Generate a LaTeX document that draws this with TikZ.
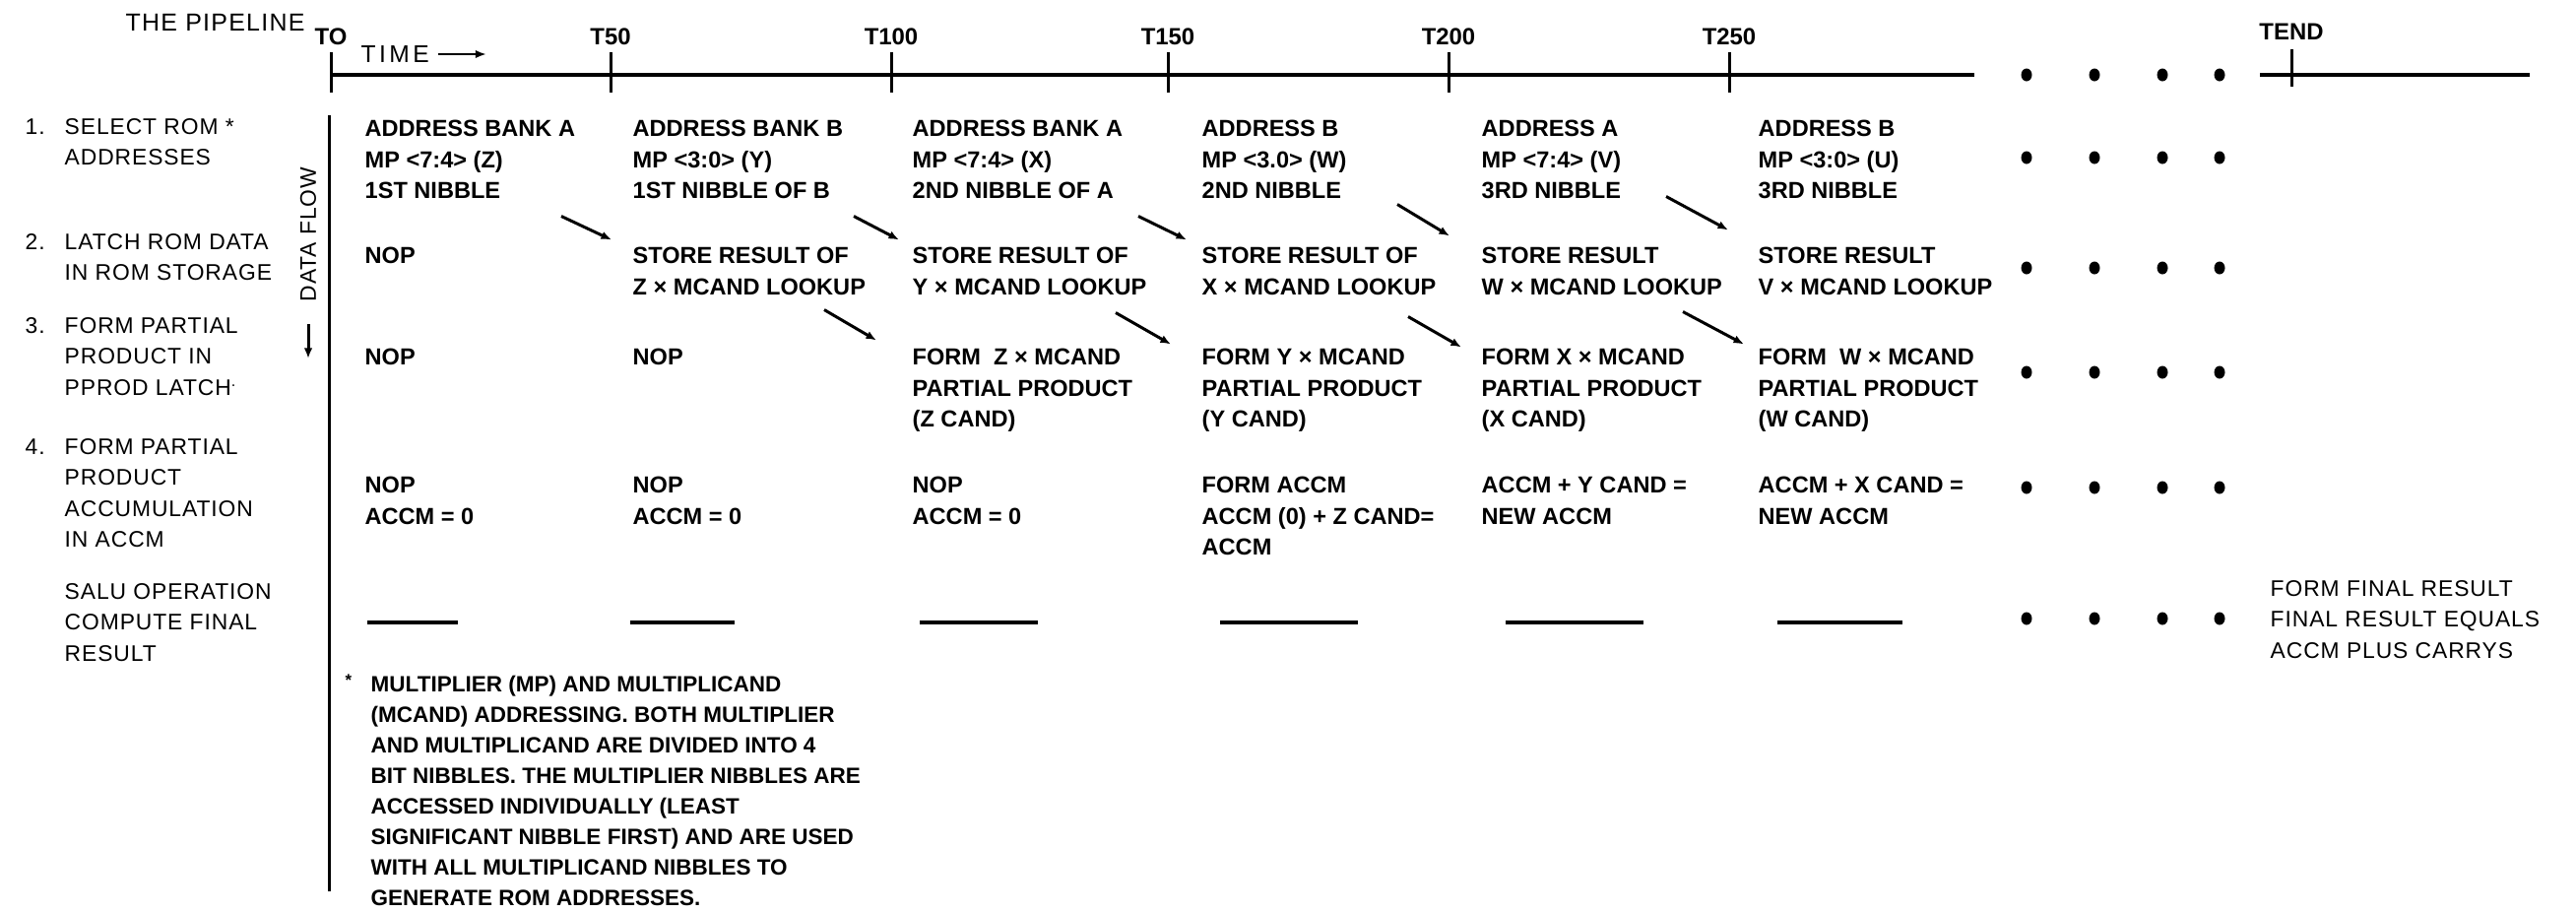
\documentclass[tikz,border=0pt]{standalone}
\usepackage{fontspec}
\setmainfont{Liberation Sans}
\usetikzlibrary{arrows.meta}

\begin{document}
\begin{tikzpicture}[x=0.01cm,y=-0.01cm,
  rowlabel/.style={font=\fontsize{6.5}{8.96}\selectfont\addfontfeature{LetterSpace=4},
                   anchor=north west,align=left,inner sep=0pt},
  cell/.style={font=\fontsize{6.7}{8.96}\selectfont\bfseries,
               anchor=north west,align=left,inner sep=0pt},
  ticklabel/.style={font=\fontsize{6.8}{8}\selectfont\bfseries,inner sep=0pt},
  notetext/.style={font=\fontsize{6.4}{8.82}\selectfont\bfseries,
                   anchor=north west,align=left,inner sep=0pt},
  axisline/.style={line width=1.3pt},
  tickline/.style={line width=.85pt},
  blank/.style={line width=1pt},
  flow/.style={-{Latex[length=3pt,width=2.4pt]},line width=.85pt},
  timeflow/.style={-{Latex[length=3.2pt,width=2.4pt]},line width=.75pt}
]
% pixel grid of the 2616 x 926 original, y pointing down
\path[use as bounding box] (0,0) rectangle (2616,926);

\node[rowlabel,anchor=west,font=\fontsize{7.1}{9}\selectfont\addfontfeature{LetterSpace=5}]
  (title) at (127,23) {THE PIPELINE};

% time axis
\draw[axisline] (336,76) -- (2005,76);
\foreach \x/\lab in {336/TO,620/T50,905/T100,1186/T150,1471/T200,1756/T250}{
  \draw[tickline] (\x,53) -- (\x,94);
  \node[ticklabel] (tick\lab) at (\x,37) {\lab};
}
\draw[axisline] (2295,76) -- (2569,76);
\draw[tickline] (2327,50) -- (2327,88);
\node[ticklabel] (tickTEND) at (2327,32) {TEND};

\node[rowlabel,anchor=west,font=\fontsize{7}{9}\selectfont\addfontfeature{LetterSpace=14}]
  (time) at (366,55) {TIME};
\coordinate (timeend) at (494,55);
\draw[timeflow] ([shift={(8,0)}]time.east) -- (timeend);

% data flow
\draw[tickline] (334,117) -- (334,905);
\node[rowlabel,anchor=west,rotate=90] (dataflow) at (313,307) {DATA FLOW};
\coordinate (flowend) at (313,364);
\draw[flow] ([shift={(0,22)}]dataflow.west) -- (flowend);

% stage labels
\node[rowlabel] (num1) at (25,119.7) {1.};
\node[rowlabel] (num2) at (25,236.7) {2.};
\node[rowlabel] (num3) at (25,321.7) {3.};
\node[rowlabel] (num4) at (25,444.7) {4.};
\node[rowlabel] (selectlbl) at (65,119.7) {SELECT ROM *\\ADDRESSES};
\node[rowlabel] (latchlbl) at (65,236.7) {LATCH ROM DATA\\IN ROM STORAGE};
\node[rowlabel] (pprodlbl) at (65,321.7) {FORM PARTIAL\\PRODUCT IN\\PPROD LATCH\textsuperscript{.}};
\node[rowlabel] (accmlbl) at (65,444.7) {FORM PARTIAL\\PRODUCT\\ACCUMULATION\\IN ACCM};
\node[rowlabel] (salulbl) at (65,591.7) {SALU OPERATION\\COMPUTE FINAL\\RESULT};

% 1. select rom addresses
\node[cell] (addr1) at (370,121.5) {ADDRESS BANK A\\MP <7:4> (Z)\\1ST NIBBLE};
\node[cell] (addr2) at (642,121.5) {ADDRESS BANK B\\MP <3:0> (Y)\\1ST NIBBLE OF B};
\node[cell] (addr3) at (926,121.5) {ADDRESS BANK A\\MP <7:4> (X)\\2ND NIBBLE OF A};
\node[cell] (addr4) at (1220,121.5) {ADDRESS B\\MP <3.0> (W)\\2ND NIBBLE};
\node[cell] (addr5) at (1504,121.5) {ADDRESS A\\MP <7:4> (V)\\3RD NIBBLE};
\node[cell] (addr6) at (1785,121.5) {ADDRESS B\\MP <3:0> (U)\\3RD NIBBLE};

% 2. latch rom data
\node[cell] (latch1) at (370,250.5) {NOP};
\node[cell] (latch2) at (642,250.5) {STORE RESULT OF\\Z × MCAND LOOKUP};
\node[cell] (latch3) at (926,250.5) {STORE RESULT OF\\Y × MCAND LOOKUP};
\node[cell] (latch4) at (1220,250.5) {STORE RESULT OF\\X × MCAND LOOKUP};
\node[cell] (latch5) at (1504,250.5) {STORE RESULT\\W × MCAND LOOKUP};
\node[cell] (latch6) at (1785,250.5) {STORE RESULT\\V × MCAND LOOKUP};

% 3. partial product
\node[cell] (pprod1) at (370,353.5) {NOP};
\node[cell] (pprod2) at (642,353.5) {NOP};
\node[cell] (pprod3) at (926,353.5) {FORM \ Z × MCAND\\PARTIAL PRODUCT\\(Z CAND)};
\node[cell] (pprod4) at (1220,353.5) {FORM Y × MCAND\\PARTIAL PRODUCT\\(Y CAND)};
\node[cell] (pprod5) at (1504,353.5) {FORM X × MCAND\\PARTIAL PRODUCT\\(X CAND)};
\node[cell] (pprod6) at (1785,353.5) {FORM \ W × MCAND\\PARTIAL PRODUCT\\(W CAND)};

% 4. accumulation
\node[cell] (accm1) at (370,483.5) {NOP\\ACCM = 0};
\node[cell] (accm2) at (642,483.5) {NOP\\ACCM = 0};
\node[cell] (accm3) at (926,483.5) {NOP\\ACCM = 0};
\node[cell] (accm4) at (1220,483.5) {FORM ACCM\\ACCM (0) + Z CAND=\\ACCM};
\node[cell] (accm5) at (1504,483.5) {ACCM + Y CAND =\\NEW ACCM};
\node[cell] (accm6) at (1785,483.5) {ACCM + X CAND =\\NEW ACCM};

% salu: nothing until the end
\foreach \a/\b in {373/465,640/746,934/1054,1239/1379,1529/1669,1805/1932}
  \draw[blank] (\a,632) -- (\b,632);
\node[rowlabel] (finalres) at (2305,588.7) {FORM FINAL RESULT\\FINAL RESULT EQUALS\\ACCM PLUS CARRYS};

\foreach \y in {76,160,272,378,495,628}
  \foreach \x in {2058,2127,2196,2254}
    \fill (\x,\y) ellipse [x radius=5.5,y radius=6.5];

% results handed one stage down
\foreach \src/\dst/\sx/\sy/\ex/\ey in {
    addr1/latch2/200/98/-21/-7, addr2/latch3/225/98/-13/-7,
    addr3/latch4/230/98/-15/-7, addr4/latch5/199/86/-32/-11,
    addr5/latch6/188/78/-30/-17,
    latch2/pprod3/195/64/-36/-8, latch3/pprod4/207/67/-31/-4,
    latch4/pprod5/210/71/-20/-1, latch5/pprod6/205/66/-14/-4}
  \draw[flow] ([shift={(\sx,\sy)}]\src.north west) -- ([shift={(\ex,\ey)}]\dst.north west);

\node[notetext,font=\fontsize{4.8}{6}\selectfont\bfseries] (notestar) at (350,684) {*};
\node[notetext] (note) at (376,685)
  {MULTIPLIER (MP) AND MULTIPLICAND\\
   (MCAND) ADDRESSING. BOTH MULTIPLIER\\
   AND MULTIPLICAND ARE DIVIDED INTO 4\\
   BIT NIBBLES. THE MULTIPLIER NIBBLES ARE\\
   ACCESSED INDIVIDUALLY (LEAST\\
   SIGNIFICANT NIBBLE FIRST) AND ARE USED\\
   WITH ALL MULTIPLICAND NIBBLES TO\\
   GENERATE ROM ADDRESSES.};
\end{tikzpicture}
\end{document}
